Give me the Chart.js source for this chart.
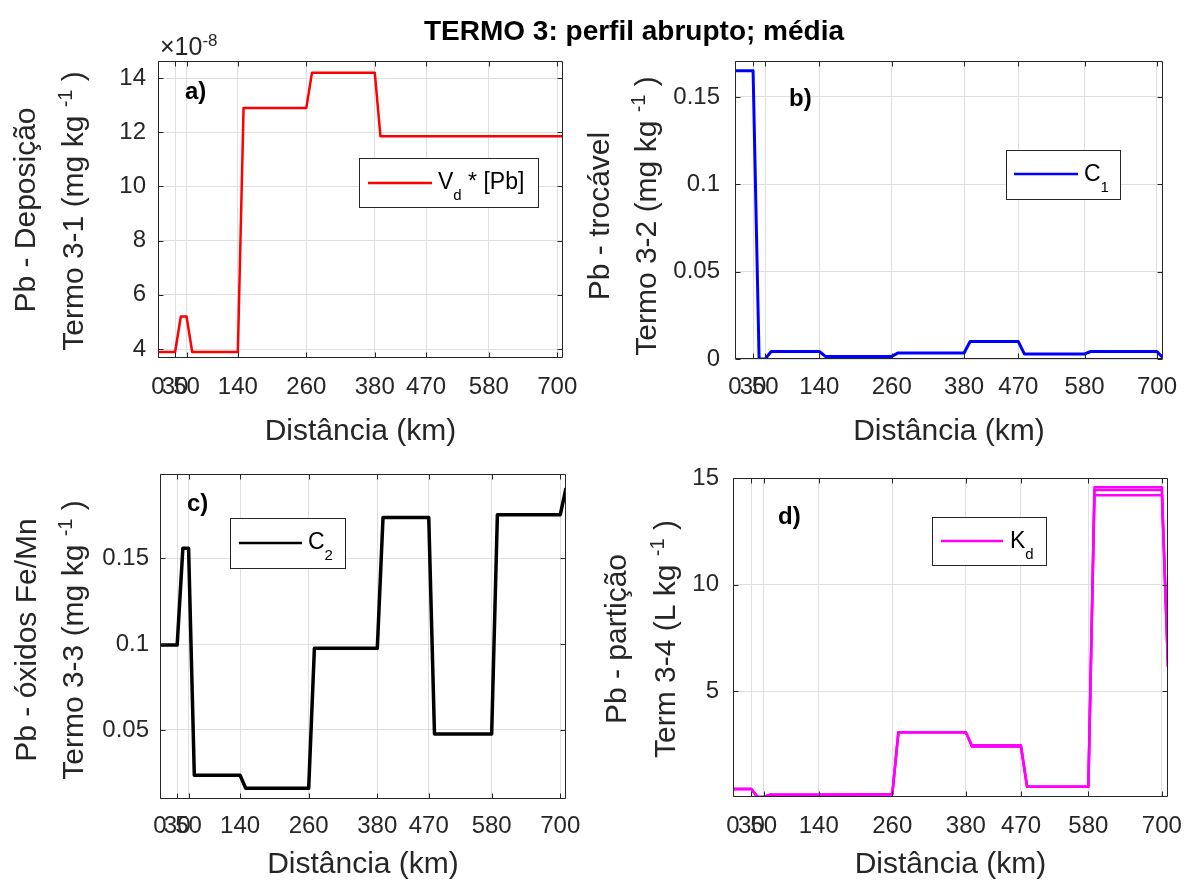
<!DOCTYPE html>
<html>
<head>
<meta charset="utf-8">
<title>TERMO 3: perfil abrupto; média</title>
<script src="https://cdn.jsdelivr.net/npm/chart.js@4.4.1/dist/chart.umd.min.js"></script>
<style>
  html, body { margin: 0; padding: 0; background: #fff; }
  #page { position: relative; width: 1188px; height: 886px; overflow: hidden; }
  #page canvas { position: absolute; }
  #title { position: absolute; left: 334px; top: 13px; width: 600px; text-align: center;
           font: bold 28px "Liberation Sans", Arial, sans-serif; line-height: 36px; color: #000; }
</style>
</head>
<body>
<div id="page">
  <canvas id="cA"></canvas>
  <canvas id="cC"></canvas>
  <canvas id="cB"></canvas>
  <canvas id="cD"></canvas>
  <div id="title">TERMO 3: perfil abrupto; média</div>
</div>
<script>
const FONT = '"Liberation Sans", Arial, sans-serif'
const INK = '#262626'
const GRID = '#dfdfdf'

// Distância (km) ticks shared by the four panels
const xTicks = [0, 30, 50, 140, 260, 380, 470, 580, 700]
const xMax = 710

// a) Vd * [Pb]  (values in units of 1e-8)
const depKm  = [0, 30, 40, 50, 60, 140, 150, 260, 270, 380, 390, 710]
const depVal = [3.89, 3.89, 5.2, 5.2, 3.89, 3.89, 12.9, 12.9, 14.2, 14.2, 11.85, 11.85]
const depTicks = [4, 6, 8, 10, 12, 14]

// b) C1
const c1Km  = [0, 30, 40, 50, 60, 140, 150, 260, 270, 380, 390, 470, 480, 580, 590, 700, 710]
const c1Val = [0.165, 0.165, 0, 0, 0.0043, 0.0043, 0.0015, 0.0015, 0.0034, 0.0034, 0.0100, 0.0100, 0.0029, 0.0029, 0.0043, 0.0043, 0.0006]
const c1Ticks = [0, 0.05, 0.1, 0.15]

// c) C2
const c2Km  = [0, 30, 40, 50, 60, 140, 150, 260, 270, 380, 390, 470, 480, 580, 590, 700, 710]
const c2Val = [0.0994, 0.0994, 0.1558, 0.1558, 0.0236, 0.0236, 0.016, 0.016, 0.0975, 0.0975, 0.1737, 0.1737, 0.0477, 0.0477, 0.1753, 0.1753, 0.1908]
const c2Ticks = [0.05, 0.1, 0.15]

// d) Kd  (three overlapping magenta curves)
const kdKm   = [0, 30, 40, 50, 60, 140, 260, 270, 380, 390, 470, 480, 580, 590, 700, 710]
const kdHigh = [0.4, 0.4, 0.02, 0.02, 0.12, 0.13, 0.15, 3.07, 3.07, 2.45, 2.45, 0.5, 0.5, 14.59, 14.59, 6.15]
const kdMid  = [0.4, 0.4, 0.02, 0.02, 0.12, 0.13, 0.15, 3.07, 3.07, 2.39, 2.39, 0.5, 0.5, 14.45, 14.45, 6.15]
const kdLow  = [0.4, 0.4, 0.02, 0.02, 0.12, 0.13, 0.15, 3.07, 3.07, 2.39, 2.39, 0.5, 0.5, 14.21, 14.21, 6.15]
const kdTicks = [5, 10, 15]

const NOTES = {}

function pts(xs, ys) {
  return xs.map((x, i) => ({ x, y: ys[i] }))
}

function line(xs, ys, color, width) {
  return {
    data: pts(xs, ys), borderColor: color, borderWidth: width,
    pointRadius: 0, fill: false, tension: 0,
    borderJoinStyle: 'round', borderCapStyle: 'butt',
  }
}

// text with sub/superscripts: segs = [[text, kind]], kind 1 = sup, -1 = sub
function richText(ctx, segs, x, y, size, o) {
  const weight = o.bold ? 'bold ' : ''
  const fontFor = k => weight + (k ? Math.round(size * 0.66) : size) + 'px ' + FONT
  let w = 0
  segs.forEach(([t, k]) => { ctx.font = fontFor(k); w += ctx.measureText(t).width })
  ctx.save()
  ctx.translate(x, y)
  if (o.rot) ctx.rotate(o.rot)
  ctx.fillStyle = o.color || INK
  ctx.textBaseline = 'alphabetic'
  ctx.textAlign = 'left'
  let cx = o.align === 'left' ? 0 : -w / 2
  const base = size * 0.36
  segs.forEach(([t, k]) => {
    ctx.font = fontFor(k)
    const dy = k === 1 ? -size * 0.36 : k === -1 ? size * 0.45 : 0
    ctx.fillText(t, cx, base + dy)
    cx += ctx.measureText(t).width
  })
  ctx.restore()
}

const matlab = {
  id: 'matlab',
  afterDraw(chart) {
    const { ctx, chartArea: a } = chart
    const xs = chart.scales.x, ys = chart.scales.y
    const note = NOTES[chart.canvas.id]
    ctx.save()
    // axes box with inward ticks on all sides
    const L = Math.round(a.left) + 0.5, R = Math.round(a.right) - 0.5
    const T = Math.round(a.top) + 0.5, B = Math.round(a.bottom) - 0.5
    ctx.strokeStyle = INK
    ctx.lineWidth = 1
    ctx.beginPath()
    ctx.rect(L, T, R - L, B - T)
    xs.ticks.forEach(t => {
      const p = Math.round(xs.getPixelForValue(t.value)) + 0.5
      ctx.moveTo(p, B); ctx.lineTo(p, B - 5)
      ctx.moveTo(p, T); ctx.lineTo(p, T + 5)
    })
    ys.ticks.forEach(t => {
      const p = Math.round(ys.getPixelForValue(t.value)) + 0.5
      ctx.moveTo(L, p); ctx.lineTo(L + 5, p)
      ctx.moveTo(R, p); ctx.lineTo(R - 5, p)
    })
    ctx.stroke()

    const ox = note.ox, oy = note.oy
    note.texts.forEach(t => richText(ctx, t.segs, t.x - ox, t.y - oy, t.size, t))

    const lg = note.legend
    ctx.fillStyle = '#fff'
    ctx.fillRect(lg.box[0] - ox, lg.box[1] - oy, lg.box[2] - lg.box[0], lg.box[3] - lg.box[1])
    ctx.strokeStyle = INK
    ctx.lineWidth = 1
    ctx.strokeRect(lg.box[0] - ox + 0.5, lg.box[1] - oy + 0.5, lg.box[2] - lg.box[0], lg.box[3] - lg.box[1])
    ctx.strokeStyle = lg.color
    ctx.lineWidth = 2.5
    ctx.beginPath()
    ctx.moveTo(lg.line[0] - ox, lg.line[2] - oy)
    ctx.lineTo(lg.line[1] - ox, lg.line[2] - oy)
    ctx.stroke()
    richText(ctx, lg.segs, lg.tx - ox, lg.ty - oy, 23, { align: 'left', color: '#000' })
    ctx.restore()
  },
}

function panel(id, box, area, y, datasets, note) {
  const cv = document.getElementById(id)
  cv.width = box.w
  cv.height = box.h
  cv.style.left = box.x + 'px'
  cv.style.top = box.y + 'px'
  NOTES[id] = Object.assign({ ox: box.x, oy: box.y }, note)

  return new Chart(cv, {
    type: 'line',
    data: { datasets },
    options: {
      responsive: false,
      animation: false,
      devicePixelRatio: 1,
      layout: {
        autoPadding: false,
        padding: { left: 0, top: area.t - box.y, right: box.x + box.w - area.r, bottom: 0 },
      },
      plugins: { legend: { display: false }, tooltip: { enabled: false } },
      scales: {
        x: {
          type: 'linear', min: 0, max: xMax,
          afterBuildTicks: s => { s.ticks = xTicks.map(v => ({ value: v })) },
          afterFit: s => {
            s.height = box.y + box.h - area.b
            s.paddingLeft = 0; s.paddingRight = 0
          },
          grid: { color: GRID, lineWidth: 1, drawTicks: false },
          border: { display: false },
          ticks: {
            autoSkip: false, maxRotation: 0, minRotation: 0,
            padding: area.xLab - area.b - 14.4,
            color: INK, font: { family: FONT, size: 24 },
            callback: v => String(v),
          },
          title: {
            display: true, text: 'Distância (km)', color: INK,
            font: { family: FONT, size: 30 },
            padding: { top: 0, bottom: box.y + box.h - area.xTit - 18 },
          },
        },
        y: {
          type: 'linear', min: y.min, max: y.max,
          afterBuildTicks: s => { s.ticks = y.ticks.map(v => ({ value: v })) },
          afterFit: s => {
            s.width = area.l - box.x
            s.paddingTop = 0; s.paddingBottom = 0
          },
          grid: { color: GRID, lineWidth: 1, drawTicks: false },
          border: { display: false },
          ticks: {
            padding: y.pad, color: INK, font: { family: FONT, size: 24 },
            callback: v => String(v),
          },
        },
      },
    },
    plugins: [matlab],
  })
}

const HALF = -Math.PI / 2
const kgSup = (head) => [[head, 0], ['-1', 1], [' )', 0]]

panel('cA', { x: 0, y: 0, w: 592, h: 460 },
  { l: 158, t: 61, r: 563, b: 358, xLab: 387, xTit: 432 },
  { min: 3.67, max: 14.63, ticks: depTicks, pad: 12 },
  [line(depKm, depVal, '#ff0000', 2.5)],
  {
    texts: [
      { segs: [['Pb - Deposição', 0]], x: 24, y: 210, size: 30, rot: HALF },
      { segs: kgSup('Termo 3-1 (mg kg '), x: 72, y: 211, size: 30, rot: HALF },
      { segs: [['a)', 0]], x: 185, y: 90, size: 24, bold: true, align: 'left', color: '#000' },
      { segs: [['×10', 0], ['-8', 1]], x: 160, y: 46, size: 25, align: 'left' },
    ],
    legend: { box: [359, 158, 538, 207], line: [368, 432, 183], color: '#ff0000',
              segs: [['V', 0], ['d', -1], [' * [Pb]', 0]], tx: 438, ty: 181 },
  })

panel('cB', { x: 575, y: 0, w: 613, h: 460 },
  { l: 735, t: 61, r: 1163, b: 359, xLab: 387, xTit: 432 },
  { min: 0, max: 0.1706, ticks: c1Ticks, pad: 15 },
  [line(c1Km, c1Val, '#0000ff', 3)],
  {
    texts: [
      { segs: [['Pb - trocável', 0]], x: 598, y: 216, size: 30, rot: HALF },
      { segs: kgSup('Termo 3-2 (mg kg '), x: 645, y: 216, size: 30, rot: HALF },
      { segs: [['b)', 0]], x: 789, y: 97, size: 24, bold: true, align: 'left', color: '#000' },
    ],
    legend: { box: [1006, 150, 1120, 199], line: [1014, 1078, 174], color: '#0000ff',
              segs: [['C', 0], ['1', -1]], tx: 1084, ty: 173 },
  })

panel('cC', { x: 0, y: 460, w: 592, h: 426 },
  { l: 160, t: 474, r: 566, b: 799, xLab: 826, xTit: 865 },
  { min: 0.0098, max: 0.199, ticks: c2Ticks, pad: 11 },
  [line(c2Km, c2Val, '#000000', 3.5)],
  {
    texts: [
      { segs: [['Pb - óxidos Fe/Mn', 0]], x: 25, y: 640, size: 30, rot: HALF },
      { segs: kgSup('Termo 3-3 (mg kg '), x: 72, y: 640, size: 30, rot: HALF },
      { segs: [['c)', 0]], x: 187, y: 502, size: 24, bold: true, align: 'left', color: '#000' },
    ],
    legend: { box: [230, 518, 345, 568], line: [239, 302, 543], color: '#000000',
              segs: [['C', 0], ['2', -1]], tx: 308, ty: 541 },
  })

panel('cD', { x: 575, y: 460, w: 613, h: 426 },
  { l: 733, t: 478, r: 1168, b: 797, xLab: 826, xTit: 865 },
  { min: 0.02, max: 15.02, ticks: kdTicks, pad: 14 },
  [
    line(kdKm, kdLow, '#ff00ff', 2.5),
    line(kdKm, kdMid, '#ff00ff', 2.5),
    line(kdKm, kdHigh, '#ff00ff', 2.5),
  ],
  {
    texts: [
      { segs: [['Pb - partição', 0]], x: 615, y: 639, size: 30, rot: HALF },
      { segs: kgSup('Term 3-4 (L kg '), x: 664, y: 639, size: 30, rot: HALF },
      { segs: [['d)', 0]], x: 778, y: 515, size: 24, bold: true, align: 'left', color: '#000' },
    ],
    legend: { box: [932, 517, 1046, 565], line: [941, 1003, 541], color: '#ff00ff',
              segs: [['K', 0], ['d', -1]], tx: 1010, ty: 540 },
  })
</script>
</body>
</html>
